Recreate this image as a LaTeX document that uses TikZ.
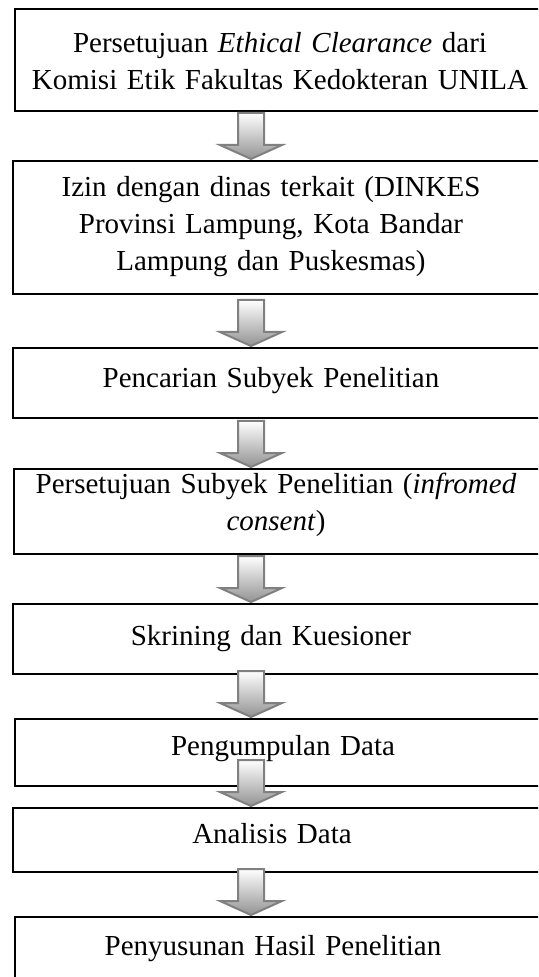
\documentclass[tikz,border=0pt]{standalone}
\usepackage{fontspec}
\setmainfont{Liberation Serif}
\usetikzlibrary{calc}
\tikzset{
  stepbox/.style={draw=black, line width=1pt, inner sep=0pt, anchor=north west, minimum width=266pt},
  steptext/.style={font=\fontsize{14.5pt}{18.5pt}\selectfont, align=center, text width=256pt, inner sep=0pt, anchor=base},
  flowarrow/.style={draw=gray, line width=1pt, top color=white, bottom color=gray!85, line join=miter}
}
\newcommand\bigarrow[2]{%
  \begin{scope}[shift={(ax |- #2.north)}]
    \path[flowarrow] (0,-1) -- (-31,-15) -- (-13,-15) -- (-13,-47) -- (13,-47) -- (13,-15) -- (31,-15) -- cycle;
  \end{scope}}
\begin{document}
\begin{tikzpicture}[x=0.5pt,y=-0.5pt]
\useasboundingbox (0,0) rectangle (538,977);
\clip (0,0) rectangle (538,977);
\coordinate (ax) at (251,0);
\node[stepbox, minimum height=51pt]   (b1) at (14,8)   {};
\node[stepbox, minimum height=66.5pt] (b2) at (12,160) {};
\node[stepbox, minimum height=35pt]   (b3) at (12,347) {};
\node[stepbox, minimum height=42.5pt] (b4) at (13,468) {};
\node[stepbox, minimum height=35pt]   (b5) at (12,603) {};
\node[stepbox, minimum height=33.5pt] (b6) at (14,718) {};
\node[stepbox, minimum height=32pt]   (b7) at (12,807) {};
\node[stepbox, minimum height=40pt]   (b8) at (14,916) {};
\node[steptext] (t1) at (280,53) {Persetujuan \textit{Ethical Clearance} dari\\Komisi Etik Fakultas Kedokteran UNILA};
\node[steptext] (t2) at (271,197) {Izin dengan dinas terkait (DINKES\\Provinsi Lampung, Kota Bandar\\Lampung dan Puskesmas)};
\node[steptext] (t3) at (271,388) {Pencarian Subyek Penelitian};
\node[steptext] (t4) at (276,493) {Persetujuan Subyek Penelitian (\textit{infromed}\\\textit{consent})};
\node[steptext] (t5) at (271,645) {Skrining dan Kuesioner};
\node[steptext] (t6) at (283,755) {Pengumpulan Data};
\node[steptext] (t7) at (272,843) {Analisis Data};
\node[steptext] (t8) at (273,955) {Penyusunan Hasil Penelitian};
\bigarrow{b1}{b2}
\bigarrow{b2}{b3}
\bigarrow{b3}{b4}
\bigarrow{b4}{b5}
\bigarrow{b5}{b6}
\bigarrow{b6}{b7}
\bigarrow{b7}{b8}
\end{tikzpicture}
\end{document}
